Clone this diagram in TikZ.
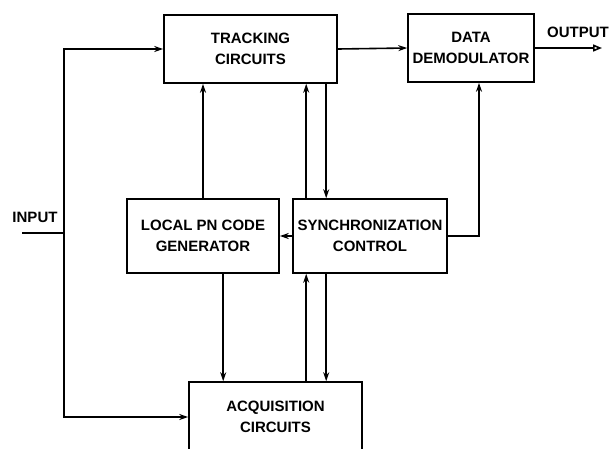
\documentclass[tikz,border=0pt]{standalone}
\usepackage{fontspec}
\setmainfont{Liberation Sans}
\usetikzlibrary{arrows.meta,calc}
\begin{document}
\begin{tikzpicture}[x=1pt,y=-1pt,
  every node/.style={font=\fontsize{15}{20.5}\selectfont\bfseries},
  box/.style={draw,line width=1.6pt,inner sep=0pt,align=center},
  arr/.style={line width=1.6pt,-{Stealth[length=9pt,width=6pt]}},
  ln/.style={line width=1.6pt}]
\useasboundingbox (0,0) rectangle (613,448);
\node[box,minimum width=173,minimum height=68] (trk) at (250.5,49) {TRACKING\\CIRCUITS};
\node[box,minimum width=126,minimum height=68] (dem) at (471,48) {DATA\\DEMODULATOR};
\node[box,minimum width=152,minimum height=74] (pn) at (203,236) {LOCAL PN CODE\\GENERATOR};
\node[box,minimum width=154,minimum height=74] (syn) at (370,236) {SYNCHRONIZATION\\CONTROL};
\node[box,minimum width=173,minimum height=70] (acq) at (275.5,417) {ACQUISITION\\CIRCUITS};
\node (inl) at (35,217) {INPUT};
\node (outl) at (578,32) {OUTPUT};
\coordinate (in) at (22,233);
\coordinate (jn) at (64,233);
\coordinate (out) at (602,48);
\draw[ln] (in) -- (jn);
\draw[arr] (jn) |- (trk.west);
\draw[arr] (jn) |- (acq.west);
\draw[arr] (trk.east) -- (dem.west);
\draw[line width=1.6pt,-{Triangle[open,length=9pt,width=7pt]}] (dem.east) -- (out);
\draw[arr] (pn.north) -- (pn.north |- trk.south);
\draw[arr] ([xshift=14pt]syn.north west) -- ([xshift=14pt]syn.north west |- trk.south);
\draw[arr] ([xshift=34pt]syn.north west |- trk.south) -- ([xshift=34pt]syn.north west);
\draw[arr] (syn.east) -| ([xshift=8pt]dem.south);
\draw[arr] (syn.west) -- (pn.east);
\draw[arr] ([xshift=97pt]pn.south west) -- ([xshift=97pt]pn.south west |- acq.north);
\draw[arr] ([xshift=14pt]syn.south west |- acq.north) -- ([xshift=14pt]syn.south west);
\draw[arr] ([xshift=34pt]syn.south west) -- ([xshift=34pt]syn.south west |- acq.north);
\end{tikzpicture}
\end{document}
